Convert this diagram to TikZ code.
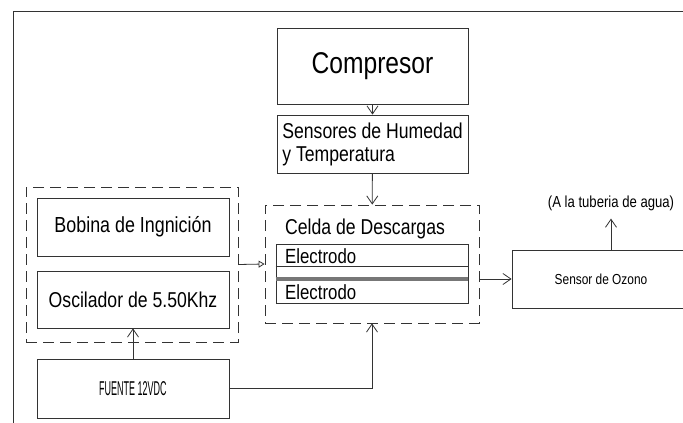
\documentclass[tikz,border=0pt]{standalone}
\usepackage{fontspec}
\setmainfont{Liberation Sans}[FakeStretch=0.82]
\newfontfamily\narrowfont{Liberation Sans}[FakeStretch=0.45]
\usetikzlibrary{arrows.meta}
\definecolor{LineGray}{HTML}{333333}
\definecolor{PlateGray}{HTML}{777777}

\tikzset{
  bloque/.style={draw=LineGray,line width=.8pt,rectangle,inner sep=0pt},
  grupo/.style={draw=LineGray,line width=.8pt,rectangle,inner sep=0pt,dash pattern=on 11pt off 6pt},
  flecha/.style={draw=LineGray,line width=.8pt,-{Straight Barb[length=8pt,width=11pt]}},
  abierta/.style={draw=LineGray,line width=.8pt,-{Triangle[open,length=6pt,width=7pt]}}
}

\begin{document}
\begin{tikzpicture}[x=1pt,y=-1pt]
  \useasboundingbox (0,0) rectangle (683,423); \clip (0,0) rectangle (683,423);
  \fill[white] (0,0) rectangle (683,423);
  \draw[LineGray,line width=.8pt] (13,440) -- (13,11) -- (700,11);
  % bloques principales
  \node[bloque,minimum width=191pt,minimum height=76pt,font=\fontsize{30}{30}\selectfont] (comp) at (372.5,66) {Compresor};
  \node[bloque,minimum width=191pt,minimum height=58pt,align=left,font=\fontsize{21.5}{23}\selectfont] (sens) at (372.5,144) {Sensores de Humedad\\y Temperatura};
  \node[grupo,minimum width=212pt,minimum height=155pt] (grupo) at (132,264.5) {};
  \node[bloque,minimum width=192pt,minimum height=58pt,font=\fontsize{21.8}{22}\selectfont] (bob) at (133,227) {Bobina de Ingnición};
  \node[bloque,minimum width=192pt,minimum height=57pt,font=\fontsize{21.5}{22}\selectfont] (osc) at (133,299.5) {Oscilador de 5.50Khz};
  \node[bloque,minimum width=192pt,minimum height=59pt,font=\narrowfont\fontsize{20}{20}\selectfont] (fuente) at (133,388.5) {FUENTE 12VDC};
  % celda
  \node[grupo,minimum width=214pt,minimum height=118pt] (celda) at (372,264) {};
  \node[anchor=west,inner sep=0pt,font=\fontsize{21.5}{22}\selectfont] (titcelda) at (285,229) {Celda de Descargas};
  \node[bloque,minimum width=192pt,minimum height=59pt] (placas) at (372,273.5) {};
  \node[anchor=west,inner sep=0pt,font=\fontsize{20.5}{21}\selectfont] (elec1) at (285,256) {Electrodo};
  \node[anchor=west,inner sep=0pt,font=\fontsize{20.5}{21}\selectfont] (elec2) at (285,292) {Electrodo};
  \draw[LineGray,line width=.8pt] (placas.west |- 0,266) -- (placas.east |- 0,266);
  \draw[PlateGray,line width=3.5pt] (placas.west |- 0,279) -- (placas.east |- 0,279);
  % salida
  \node[bloque,minimum width=200pt,minimum height=58pt] (ozono) at (612,279) {};
  \node[inner sep=0pt,font=\fontsize{14.5}{15}\selectfont] (txtozono) at (601,279) {Sensor de Ozono};
  \node[inner sep=0pt,font=\fontsize{16}{16}\selectfont] (agua) at (611,203) {(A la tuberia de agua)};
  % conexiones
  \draw[flecha] (comp) -- (sens);
  \draw[flecha] (sens) -- (celda);
  \draw[abierta] (grupo.east) -- (celda.west);
  \draw[flecha] (celda.east |- ozono) -- (ozono.west);
  \draw[flecha] (ozono.north -| agua) -- ++(0,-31);
  \draw[flecha] (fuente) -- (osc);
  \draw[flecha] (fuente.east) -| (celda.south);
\end{tikzpicture}
\end{document}
